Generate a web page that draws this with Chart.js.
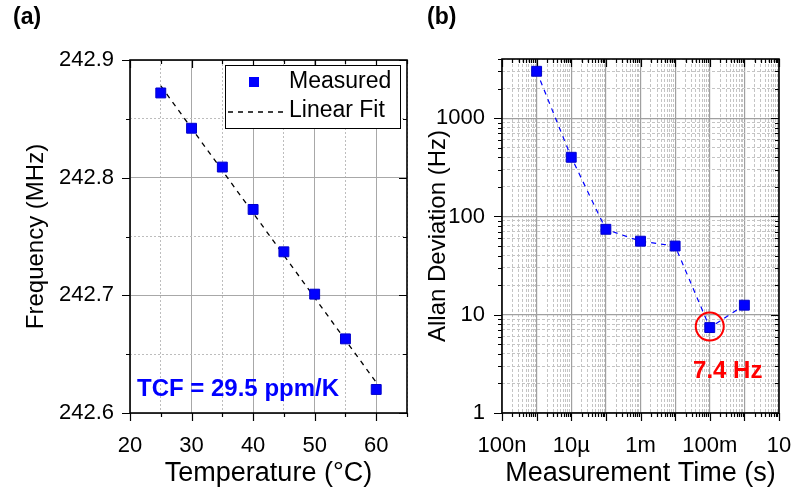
<!DOCTYPE html>
<html>
<head>
<meta charset="utf-8">
<script src="https://cdn.jsdelivr.net/npm/chart.js"></script>
<style>
  html, body { margin: 0; padding: 0; background: #fff; }
  #wrap { position: relative; width: 793px; height: 493px; overflow: hidden; }
  canvas { position: absolute; top: 0; }
  #tcfChart { left: 0; }
  #adevChart { left: 420px; }
  .panel { position: absolute; top: 3px; font: bold 23px "Liberation Sans", Arial, sans-serif; line-height: 26px; }
</style>
</head>
<body>
<div id="wrap">
  <canvas id="tcfChart" width="420" height="493"></canvas>
  <canvas id="adevChart" width="373" height="493"></canvas>
  <div class="panel" style="left:13px">(a)</div>
  <div class="panel" style="left:427px">(b)</div>
</div>
<script>
// (a) frequency vs temperature
const temps = [25, 30, 35, 40, 45, 50, 55, 60];
const freqs = [242.872, 242.842, 242.809, 242.773, 242.737, 242.701, 242.663, 242.620];
const fitTemps = [25, 60];
const fitFreqs = [242.878, 242.626];
const tempTicks = [20, 25, 30, 35, 40, 45, 50, 55, 60, 65];
const tempLabels = [20, 30, 40, 50, 60];
const freqTicks = [242.6, 242.65, 242.7, 242.75, 242.8, 242.85, 242.9];
const freqLabels = ['242.6', '242.7', '242.8', '242.9'];
const tcfText = 'TCF = 29.5 ppm/K';

// (b) Allan deviation vs measurement time
const tau = [1e-6, 1e-5, 1e-4, 1e-3, 1e-2, 1e-1, 1];
const adev = [3000, 400, 74, 56, 50, 7.4, 12.5];
const tauDecades = [-7, -6, -5, -4, -3, -2, -1, 0, 1];
const tauLabelExp = [-7, -5, -3, -1, 1];
const tauLabels = ['100n', '10\u00b5', '1m', '100m', '10'];
const adevDecades = [0, 1, 2, 3];
const adevLabels = ['1', '10', '100', '1000'];
const adevMax = 4000;

const FONT = '"Liberation Sans", Arial, sans-serif';
Chart.defaults.font.family = FONT;
Chart.defaults.color = '#000';
Chart.defaults.animation = false;

function logTicks(decades, max) {
  const out = [];
  decades.forEach(d => {
    for (let m = 1; m <= 9; m++) {
      const v = m * Math.pow(10, d);
      if (v <= max * 1.0000001) out.push({value: v});
    }
  });
  return out;
}
const isDecade = v => Math.abs(Math.log10(v) - Math.round(Math.log10(v))) < 1e-6;
const isTempMajor = v => tempLabels.includes(v);
const isFreqMajor = v => Math.abs(v * 10 - Math.round(v * 10)) < 1e-6;

// fixed axis box sizes, and no extra label padding eating into the plot
const fixH = h => s => { s.height = h; s.paddingLeft = 0; s.paddingRight = 0; };
const fixW = w => s => { s.width = w; s.paddingTop = 0; s.paddingBottom = 0; };

function makeFrame(majorX, majorY) {
  return {
    id: 'frame',
    beforeDatasetsDraw(chart) {
      const {ctx, chartArea: a, scales: {x, y}} = chart;
      ctx.save();
      ctx.strokeStyle = '#000';
      ctx.lineWidth = 1.2;
      ctx.beginPath();
      x.ticks.forEach(t => {
        const p = Math.round(x.getPixelForValue(t.value)) + 0.5;
        const len = majorX(t.value) ? 8 : 4;
        ctx.moveTo(p, a.bottom); ctx.lineTo(p, a.bottom + len);
        ctx.moveTo(p, a.top); ctx.lineTo(p, a.top + len);
      });
      y.ticks.forEach(t => {
        const p = Math.round(y.getPixelForValue(t.value)) + 0.5;
        const len = majorY(t.value) ? 8 : 4;
        ctx.moveTo(a.left, p); ctx.lineTo(a.left - len, p);
        ctx.moveTo(a.right, p); ctx.lineTo(a.right - len, p);
      });
      ctx.stroke();
      ctx.lineWidth = 1.6;
      ctx.strokeRect(a.left, a.top, a.right - a.left, a.bottom - a.top);
      ctx.restore();
    }
  };
}

const tcfNotes = {
  id: 'tcfNotes',
  afterDraw(chart) {
    const {ctx, chartArea: a} = chart;
    const ds = chart.data.datasets;
    ctx.save();
    // legend box
    const w = 175, h = 63;
    const bx = a.right - w - 7, by = a.top + 5;
    ctx.fillStyle = '#fff';
    ctx.fillRect(bx, by, w, h);
    ctx.strokeStyle = '#000';
    ctx.lineWidth = 1;
    ctx.strokeRect(bx + 0.5, by + 0.5, w, h);
    ctx.fillStyle = ds[0].backgroundColor;
    ctx.fillRect(bx + 24, by + 12, 10, 10);
    ctx.strokeStyle = ds[1].borderColor;
    ctx.lineWidth = ds[1].borderWidth;
    ctx.setLineDash(ds[1].borderDash);
    ctx.beginPath();
    ctx.moveTo(bx + 3, by + 47);
    ctx.lineTo(bx + 58, by + 47);
    ctx.stroke();
    ctx.setLineDash([]);
    ctx.fillStyle = '#000';
    ctx.font = '23px ' + FONT;
    ctx.textBaseline = 'middle';
    ctx.fillText(ds[0].label, bx + 64, by + 17);
    ctx.fillText(ds[1].label, bx + 64, by + 46);
    // TCF note
    ctx.fillStyle = '#0000ff';
    ctx.font = 'bold 24px ' + FONT;
    ctx.fillText(tcfText, a.left + 7, a.bottom - 24);
    ctx.restore();
  }
};

const minMark = {
  id: 'minMark',
  afterDatasetsDraw(chart) {
    const {ctx, scales: {x, y}} = chart;
    const i = adev.indexOf(Math.min(...adev));
    const px = x.getPixelForValue(tau[i]);
    const py = y.getPixelForValue(adev[i]);
    ctx.save();
    ctx.strokeStyle = '#ff0000';
    ctx.lineWidth = 2;
    ctx.beginPath();
    ctx.arc(px, py - 1, 14, 0, Math.PI * 2);
    ctx.stroke();
    ctx.fillStyle = '#ff0000';
    ctx.font = 'bold 24px ' + FONT;
    ctx.textAlign = 'center';
    ctx.textBaseline = 'middle';
    ctx.fillText(adev[i] + ' Hz', px + 18, py + 44);
    ctx.restore();
  }
};

new Chart(document.getElementById('tcfChart'), {
  type: 'scatter',
  data: {
    datasets: [{
      label: 'Measured',
      data: temps.map((t, i) => ({x: t, y: freqs[i]})),
      pointStyle: 'rect',
      pointRadius: 7,
      backgroundColor: '#0000ff',
      borderColor: '#0000cc',
      borderWidth: 1,
      showLine: false,
      order: 0
    }, {
      label: 'Linear Fit',
      data: fitTemps.map((t, i) => ({x: t, y: fitFreqs[i]})),
      showLine: true,
      pointRadius: 0,
      borderColor: '#000',
      borderWidth: 1.3,
      borderDash: [5, 5],
      order: 1
    }]
  },
  options: {
    responsive: false,
    devicePixelRatio: 1,
    layout: {padding: {left: 0, top: 60, right: 13, bottom: 0}},
    plugins: {legend: {display: false}, tooltip: {enabled: false}},
    scales: {
      x: {
        type: 'linear', min: 20, max: 65,
        afterBuildTicks: s => { s.ticks = tempTicks.map(v => ({value: v})); },
        afterFit: fixH(80),
        grid: {
          drawTicks: false,
          color: c => (c.tick && isTempMajor(c.tick.value)) ? '#a8a8a8' : '#bdbdbd',
          lineWidth: 1
        },
        border: {display: false, dash: c => (c.tick && !isTempMajor(c.tick.value)) ? [2, 2] : []},
        ticks: {
          autoSkip: false, maxRotation: 0, padding: 20, font: {size: 22},
          callback: v => isTempMajor(v) ? String(v) : ''
        },
        title: {display: true, text: 'Temperature (\u00b0C)', font: {size: 27}, padding: {top: 0, bottom: 3}}
      },
      y: {
        type: 'linear', min: 242.6, max: 242.9,
        afterBuildTicks: s => { s.ticks = freqTicks.map(v => ({value: v})); },
        afterFit: fixW(130),
        grid: {
          drawTicks: false,
          color: c => (c.tick && isFreqMajor(c.tick.value)) ? '#a8a8a8' : '#bdbdbd',
          lineWidth: 1
        },
        border: {display: false, dash: c => (c.tick && !isFreqMajor(c.tick.value)) ? [2, 2] : []},
        ticks: {
          autoSkip: false, padding: 16, font: {size: 22},
          callback: v => isFreqMajor(v) ? freqLabels.find(l => Math.abs(+l - v) < 1e-6) : ''
        },
        title: {display: true, text: 'Frequency (MHz)', font: {size: 24}, padding: {top: 22, bottom: 0}}
      }
    }
  },
  plugins: [makeFrame(isTempMajor, isFreqMajor), tcfNotes]
});

new Chart(document.getElementById('adevChart'), {
  type: 'scatter',
  data: {
    datasets: [{
      label: 'Allan Deviation',
      data: tau.map((t, i) => ({x: t, y: adev[i]})),
      showLine: true,
      pointStyle: 'rect',
      pointRadius: 7,
      backgroundColor: '#0000ff',
      pointBorderColor: '#0000cc',
      pointBorderWidth: 1,
      borderColor: '#0000ff',
      borderWidth: 1.2,
      borderDash: [5, 5]
    }]
  },
  options: {
    responsive: false,
    devicePixelRatio: 1,
    layout: {padding: {left: 0, top: 59, right: 14, bottom: 0}},
    plugins: {legend: {display: false}, tooltip: {enabled: false}},
    scales: {
      x: {
        type: 'logarithmic', min: 1e-7, max: 10,
        afterBuildTicks: s => { s.ticks = logTicks(tauDecades, 10); },
        afterFit: fixH(80),
        grid: {
          drawTicks: false,
          color: c => (c.tick && isDecade(c.tick.value)) ? '#a0a0a0' : '#c4c4c4',
          lineWidth: c => (c.tick && isDecade(c.tick.value)) ? 1.2 : 1
        },
        border: {display: false, dash: c => (c.tick && !isDecade(c.tick.value)) ? [3, 2] : []},
        ticks: {
          autoSkip: false, maxRotation: 0, padding: 20, font: {size: 22},
          callback: v => {
            if (!isDecade(v)) return '';
            const k = tauLabelExp.indexOf(Math.round(Math.log10(v)));
            return k >= 0 ? tauLabels[k] : '';
          }
        },
        title: {display: true, text: 'Measurement Time (s)', font: {size: 27}, padding: {top: 0, bottom: 3}}
      },
      y: {
        type: 'logarithmic', min: 1, max: adevMax,
        afterBuildTicks: s => { s.ticks = logTicks(adevDecades, adevMax); },
        afterFit: fixW(82),
        grid: {
          drawTicks: false,
          color: c => (c.tick && isDecade(c.tick.value)) ? '#a0a0a0' : '#c4c4c4',
          lineWidth: c => (c.tick && isDecade(c.tick.value)) ? 1.2 : 1
        },
        border: {display: false, dash: c => (c.tick && !isDecade(c.tick.value)) ? [3, 2] : []},
        ticks: {
          autoSkip: false, padding: 17, font: {size: 22},
          callback: v => {
            if (!isDecade(v)) return '';
            const k = Math.round(Math.log10(v));
            return adevDecades.includes(k) ? adevLabels[adevDecades.indexOf(k)] : '';
          }
        },
        title: {display: true, text: 'Allan Deviation (Hz)', font: {size: 24}, padding: {top: 4, bottom: 0}}
      }
    }
  },
  plugins: [makeFrame(isDecade, isDecade), minMark]
});
</script>
</body>
</html>
